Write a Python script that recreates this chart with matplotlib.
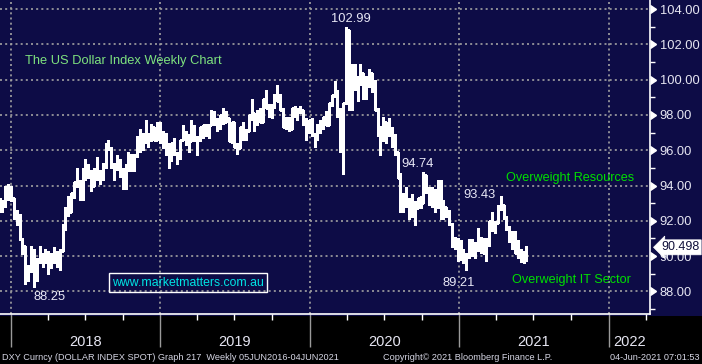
import matplotlib
matplotlib.use('Agg')
import matplotlib.pyplot as plt
import matplotlib.dates as mdates
import matplotlib.transforms as mtransforms
from matplotlib.patches import Rectangle
import numpy as np
import pandas as pd

plt.rcParams['font.family'] = ['Liberation Sans', 'DejaVu Sans']

# DXY weekly bars, week of 24-Nov-2017 .. week of 04-Jun-2021
closes = [92.8, 92.9, 93.9, 93.9, 93.3, 92.3,
          # 2018
          91.95, 90.95, 90.56, 89.05, 89.2, 90.3, 89.1, 89.8, 89.9, 90.1, 90.2, 89.4, 90.1,
          90.1, 89.8, 90.3, 91.6, 92.5, 92.5, 93.6, 94.2, 94.2, 93.6, 94.8, 94.5, 94.6,
          94.0, 94.7, 94.4, 94.7, 95.2, 96.3, 96.1, 95.2, 95.1, 95.4, 94.9, 94.2, 95.1,
          95.6, 95.2, 95.7, 96.4, 96.5, 96.9, 96.5, 96.9, 97.3, 96.6, 97.5, 96.9, 96.2,
          # 2019
          96.2, 95.6, 96.4, 95.8, 95.6, 96.6, 96.9, 96.5, 96.5, 97.3, 96.6, 96.7, 97.3,
          97.4, 96.9, 97.4, 98.0, 97.5, 97.3, 98.0, 97.6, 97.8, 96.5, 97.6, 96.2, 96.1,
          97.3, 96.8, 97.1, 98.0, 98.1, 97.5, 98.1, 97.6, 98.9, 98.4, 98.1, 98.5, 99.1,
          98.8, 98.3, 97.3, 97.8, 97.2, 98.4, 98.0, 98.3, 98.3, 97.7, 97.2, 97.7, 96.9,
          # 2020
          96.8, 97.4, 97.6, 97.9, 97.4, 98.7, 99.1, 99.3, 98.1, 96.0, 98.7, 102.8, 98.4,
          100.6, 99.5, 99.8, 100.4, 99.0, 99.7, 100.4, 99.9, 98.3, 96.9, 97.3, 97.6, 97.4,
          97.2, 96.6, 95.9, 94.4, 93.4, 93.4, 93.1, 93.2, 92.4, 92.7, 93.3, 93.0, 94.6,
          93.8, 93.0, 93.7, 92.8, 94.0, 92.2, 92.8, 92.4, 91.8, 90.7, 90.98, 90.0, 90.3,
          # 2021
          89.9, 90.1, 90.8, 90.2, 90.6, 91.0, 90.5, 90.4, 90.9, 91.98, 91.7, 91.9, 92.8,
          92.9, 92.2, 91.6, 90.9, 91.3, 90.2, 90.3, 90.0, 90.0, 90.498]

highs = [93.3, 93.2, 94.0, 94.1, 94.0, 93.3,
         92.6, 92.4, 91.0, 90.6, 89.5, 90.6, 90.4, 89.9, 90.6, 90.2, 90.4, 90.3, 90.2,
         90.5, 90.3, 90.4, 91.8, 92.8, 93.4, 93.6, 94.2, 95.0, 94.3, 95.0, 95.5, 95.2,
         94.9, 95.0, 95.6, 94.9, 95.3, 96.4, 96.6, 96.2, 95.3, 95.7, 95.5, 95.0, 95.2,
         95.9, 95.8, 95.8, 96.8, 97.2, 97.0, 97.7, 97.0, 97.5, 97.3, 97.6, 97.6, 97.1,
         96.96, 96.4, 96.4, 96.7, 95.9, 96.6, 97.4, 97.1, 96.9, 97.7, 97.4, 96.8, 97.3,
         97.4, 97.5, 97.5, 98.3, 98.2, 97.8, 98.0, 98.4, 98.2, 97.8, 97.6, 97.6, 96.4,
         97.3, 97.6, 97.2, 98.0, 98.9, 98.1, 98.3, 98.4, 98.9, 99.4, 98.6, 98.6, 99.2,
         99.67, 99.2, 98.4, 97.9, 97.9, 98.4, 98.5, 98.4, 98.5, 98.3, 97.8, 97.7, 97.8,
         97.0, 97.5, 97.7, 97.9, 98.2, 98.7, 99.1, 99.9, 99.4, 98.4, 98.7, 102.99, 102.8,
         100.9, 100.9, 100.2, 100.9, 100.4, 100.2, 100.6, 100.4, 100.0, 98.4, 97.3, 97.9, 97.6,
         97.8, 97.3, 96.9, 95.9, 94.7, 93.6, 93.9, 93.3, 93.5, 93.1, 93.3, 93.4, 94.74,
         94.6, 93.9, 93.9, 93.8, 94.3, 94.3, 93.2, 92.8, 92.6, 91.9, 91.1, 91.0, 90.9,
         90.4, 90.2, 90.95, 90.95, 90.8, 91.6, 91.1, 91.0, 91.0, 92.0, 92.5, 92.0, 92.9,
         93.43, 92.9, 92.3, 91.7, 91.4, 91.4, 90.9, 90.4, 90.3, 90.6]

lows = [92.5, 92.5, 92.8, 93.2, 93.1, 92.1,
        91.75, 90.9, 90.1, 88.44, 88.6, 89.1, 88.25, 88.6, 89.6, 89.4, 89.6, 89.0, 89.3,
        89.6, 89.4, 89.2, 90.3, 91.5, 92.3, 92.5, 93.3, 93.9, 93.2, 93.2, 94.3, 94.4,
        93.7, 94.0, 94.3, 94.1, 94.3, 95.0, 96.0, 95.0, 94.3, 94.9, 94.5, 93.8, 93.8,
        94.8, 94.8, 94.8, 95.6, 95.9, 96.0, 96.4, 96.2, 96.5, 96.6, 96.6, 96.4, 96.1,
        95.7, 95.0, 95.4, 95.7, 95.2, 95.5, 96.6, 96.3, 95.9, 96.5, 96.5, 95.7, 96.5,
        96.7, 96.8, 96.7, 97.4, 97.4, 97.1, 97.2, 97.5, 97.6, 96.5, 96.4, 96.2, 95.8,
        96.1, 96.6, 96.6, 97.1, 97.7, 97.1, 97.4, 97.6, 97.6, 98.4, 97.9, 97.8, 98.4,
        98.8, 98.3, 97.3, 97.2, 97.1, 97.2, 97.9, 97.7, 98.1, 97.4, 96.6, 97.0, 96.8,
        96.2, 96.6, 97.0, 97.2, 97.4, 97.4, 98.5, 99.0, 97.9, 95.9, 94.65, 98.6, 98.3,
        98.3, 99.4, 98.8, 99.7, 98.9, 98.9, 99.6, 99.3, 98.3, 96.8, 95.7, 96.5, 96.4,
        96.8, 96.2, 95.7, 94.4, 92.5, 92.5, 92.8, 92.1, 92.2, 91.75, 92.7, 92.7, 93.0,
        93.6, 92.9, 92.8, 92.5, 92.7, 92.1, 92.1, 92.2, 91.75, 90.5, 90.4, 89.7, 89.8,
        89.6, 89.21, 89.9, 90.0, 89.9, 90.3, 90.2, 90.1, 89.7, 90.6, 91.4, 91.3, 91.9,
        92.6, 92.1, 91.5, 90.8, 90.4, 90.2, 89.9, 89.65, 89.6, 89.7]

first_open = 93.1
last_price = 90.498
peak_labels = ['102.99', '88.25', '94.74', '93.43', '89.21']

NAVY = '#0d0c46'
W, H = 702, 364

weeks = pd.date_range('2017-12-04', periods=len(closes), freq='W-MON')
x = mdates.date2num(weeks)
opens = [first_open] + closes[:-1]

fig = plt.figure(figsize=(W / 100, H / 100), dpi=100, facecolor='black')
fig.patches.append(Rectangle((0, 1 - 316 / H), 1, 316 / H, transform=fig.transFigure,
                             facecolor=NAVY, edgecolor='none', zorder=-5))
ax = fig.add_axes([0, 1 - 314 / H, 650 / W, 314 / H])
ax.set_facecolor(NAVY)

# OHLC bars (crisp, like the terminal rendering)
bar_kw = dict(color='white', lw=1.0, zorder=3, antialiased=False)
ax.vlines(x, lows, highs, **bar_kw)
ax.hlines(opens, x - 2.5, x, **bar_kw)
ax.hlines(closes, x, x + 2.5, **bar_kw)

ax.xaxis_date()
ax.set_xlim(mdates.date2num(pd.Timestamp('2017-12-05')), mdates.date2num(pd.Timestamp('2022-04-12')))
ax.set_ylim(86.72, 104.51)

# axes styling
for s in ['left', 'top']:
    ax.spines[s].set_visible(False)
for s in ['right', 'bottom']:
    ax.spines[s].set_color('white')
    ax.spines[s].set_linewidth(1.2)

ax.yaxis.tick_right()
yt = np.arange(88, 105, 2)
ax.set_yticks(yt)
ax.set_yticklabels(['%.2f' % v for v in yt])
ax.set_yticks(np.arange(87, 105, 2), minor=True)
ax.tick_params(axis='y', which='major', length=0, pad=7, labelsize=9.3, labelcolor='#e6e6f2')
ax.tick_params(axis='y', which='minor', length=3.5, width=1, color='white', direction='out')

ax.xaxis.set_major_locator(mdates.YearLocator())
ax.xaxis.set_minor_locator(mdates.MonthLocator(bymonth=[4, 7, 10]))
ax.xaxis.set_major_formatter(plt.NullFormatter())
ax.tick_params(axis='x', which='major', length=24, width=1, color='#9a9a9a', direction='out')
ax.tick_params(axis='x', which='minor', length=4, width=1, color='white', direction='out')

ax.grid(which='major', color='#a2a2a2', lw=1.2, ls=(0, (1.2, 1.9)), zorder=1)

# triangle tick markers on the price axis
tri = mtransforms.blended_transform_factory(ax.transAxes, ax.transData)
ax.plot([1.0] * len(yt), yt, ls='none', marker=9, ms=6, color='white',
        transform=tri, clip_on=False, zorder=5)

# year labels centred in the visible part of each year
xl = ax.get_xlim()
yr_tr = mtransforms.blended_transform_factory(ax.transData, fig.transFigure)
for yr in range(2018, 2023):
    a = max(mdates.date2num(pd.Timestamp(f'{yr}-01-01')), xl[0])
    b = min(mdates.date2num(pd.Timestamp(f'{yr + 1}-01-01')), xl[1])
    ax.text((a + b) / 2, 1 - 346 / H, str(yr), transform=yr_tr, ha='center', va='baseline',
            color='#e6e6f2', fontsize=10.5, clip_on=False)


def px(px_x, px_y):
    return px_x / W, 1 - px_y / H


num_col = '#e8e8f6'
fig.text(*px(351, 22), peak_labels[0], ha='center', va='baseline', color=num_col, fontsize=9.3)
fig.text(*px(50, 300), peak_labels[1], ha='center', va='baseline', color=num_col, fontsize=9.3)
fig.text(*px(418, 167), peak_labels[2], ha='center', va='baseline', color=num_col, fontsize=9.3)
fig.text(*px(479, 198), peak_labels[3], ha='center', va='baseline', color=num_col, fontsize=9.3)
fig.text(*px(459, 286), peak_labels[4], ha='center', va='baseline', color=num_col, fontsize=9.3)

fig.text(*px(25, 64), 'The US Dollar Index Weekly Chart', ha='left', va='baseline',
         color='#7ee27e', fontsize=9.3)
fig.text(*px(506, 181.5), 'Overweight Resources', ha='left', va='baseline',
         color='#00e000', fontsize=9.1)
fig.text(*px(512, 283), 'Overweight IT Sector', ha='left', va='baseline',
         color='#00e000', fontsize=9.1)
fig.text(*px(188, 282.5), 'www.marketmatters.com.au', ha='center', va='center',
         color='#00e4e4', fontsize=8.8,
         bbox=dict(boxstyle='square,pad=0.25', fc='none', ec='white', lw=1))

# last price tag
ax.text(1.047, last_price, '%.3f' % last_price, transform=tri, ha='center', va='center',
        color='#10103a', fontsize=9, clip_on=False, zorder=6,
        bbox=dict(boxstyle='larrow,pad=0.12', fc='white', ec='white', lw=0.5))

# footer
foot = '#d6d6e4'
fig.text(*px(2, 360), 'DXY Curncy (DOLLAR INDEX SPOT) Graph 217  Weekly 05JUN2016-04JUN2021',
         ha='left', va='baseline', color=foot, fontsize=6.6)
fig.text(*px(383, 360), 'Copyright\u00a9 2021 Bloomberg Finance L.P.', ha='left', va='baseline',
         color=foot, fontsize=6.6)
fig.text(*px(700, 360), '04-Jun-2021 07:01:53', ha='right', va='baseline', color=foot, fontsize=6.6)

fig.savefig('out.png', dpi=100, facecolor=fig.get_facecolor())
